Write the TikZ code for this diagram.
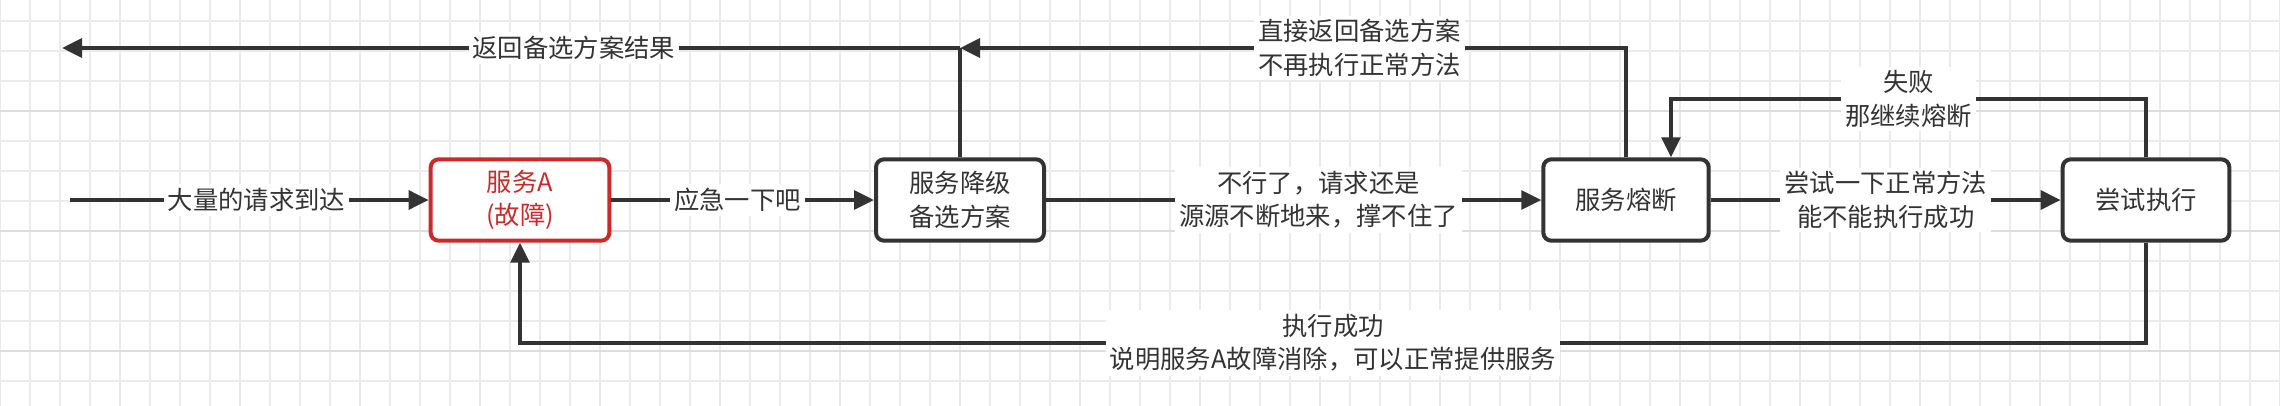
\documentclass[tikz,border=0pt]{standalone}
\usepackage{fontspec}
\setmainfont{Noto Sans CJK SC}
\usetikzlibrary{arrows.meta}
\definecolor{ink}{HTML}{333333}
\definecolor{redA}{HTML}{CC2A2A}
\definecolor{gridc}{HTML}{EBEBEB}
\definecolor{gridm}{HTML}{DDDDDD}
\tikzset{
  box/.style={draw=ink,line width=3pt,rounded corners=6pt,fill=white,align=center,font=\fontsize{19}{25}\selectfont,text=ink,inner sep=0pt},
  arr/.style={draw=ink,line width=3pt,-{Triangle[length=15pt,width=14pt]}},
  ln/.style={draw=ink,line width=3pt},
  lbl/.style={fill=white,align=center,font=\fontsize{19}{25}\selectfont,text=ink,inner sep=3pt}
}
\begin{document}
\begin{tikzpicture}[x=0.75pt,y=-0.75pt]
\useasboundingbox (0,0) rectangle (2280,406);
\fill[white] (0,0) rectangle (2280,406);
\foreach \i in {0,...,76} {\draw[gridc,line width=0.8pt] (\i*30,0) -- (\i*30,406);}
\foreach \j in {0,...,13} {\draw[gridc,line width=0.8pt] (0,21+\j*30) -- (2280,21+\j*30);}
\foreach \j in {0,...,3} {\draw[gridm,line width=1.6pt] (0,111+\j*120) -- (2280,111+\j*120);}
\node[box,draw=redA,text=redA,minimum width=134pt,minimum height=61pt] (A) at (520,200) {服务A\\(故障)};
\node[box,minimum width=126pt,minimum height=61pt] (D) at (960,200) {服务降级\\备选方案};
\node[box,minimum width=124pt,minimum height=61pt] (B) at (1626,200) {服务熔断};
\node[box,minimum width=125pt,minimum height=61pt] (T) at (2146,200) {尝试执行};
\coordinate (in) at (70,200);
\coordinate (out) at (62,48);
\coordinate (j) at (960,48);
\coordinate (f1) at (2146,99);
\coordinate (f2) at (1671,99);
\coordinate (b1) at (2146,343);
\coordinate (b2) at (520,343);
\draw[arr] (in) -- node[lbl,pos=0.52]{大量的请求到达} (A);
\draw[arr] (A) -- node[lbl,pos=0.48]{应急一下吧} (D);
\draw[arr] (D) -- node[lbl,pos=0.55]{不行了，请求还是\\源源不断地来，撑不住了} (B);
\draw[arr] (B) -- node[lbl,pos=0.5]{尝试一下正常方法\\能不能执行成功} (T);
\draw[ln] (D.north) -- (j);
\draw[arr] (B.north) |- node[lbl,pos=0.70]{直接返回备选方案\\不再执行正常方法} (j);
\draw[arr] (j) -- node[lbl,pos=0.43]{返回备选方案结果} (out);
\draw[arr] (T.north) -- (f1) -- node[lbl]{失败\\那继续熔断} (f2) -- (f2 |- B.north);
\draw[arr] (T.south) -- (b1) -- node[lbl]{执行成功\\说明服务A故障消除，可以正常提供服务} (b2) -- (A.south);
\end{tikzpicture}
\end{document}
